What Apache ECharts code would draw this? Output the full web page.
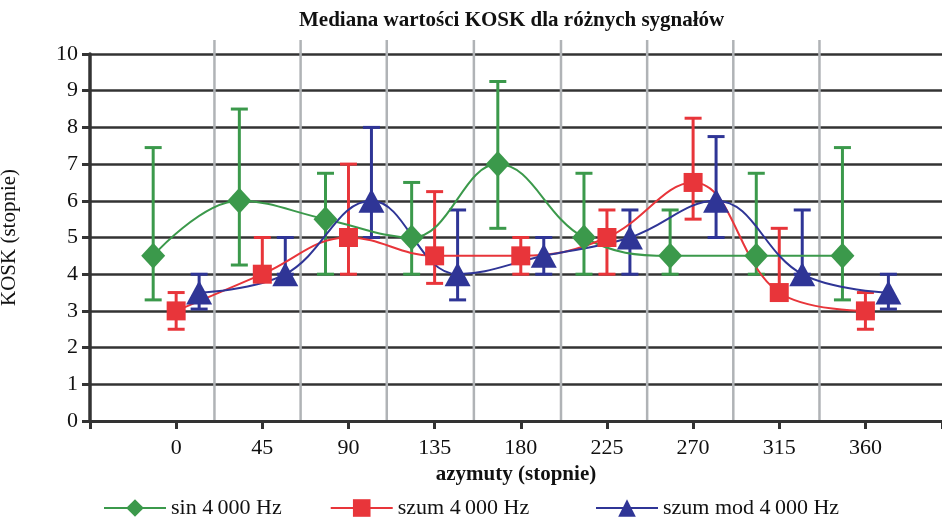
<!DOCTYPE html>
<html>
<head>
<meta charset="utf-8">
<script src="https://cdn.jsdelivr.net/npm/echarts@6/dist/echarts.min.js"></script>
<style>
  html, body { margin: 0; padding: 0; background: #fff; }
  #chart { width: 942px; height: 518px; }
</style>
</head>
<body>
<div id="chart"></div>
<script>
// azymuty (stopnie)
const azimuths = [0, 45, 90, 135, 180, 225, 270, 315, 360]
const seriesOffset = 12 // przesunięcie serii w obrębie grupy

// mediany
const sinMedian = [4.5, 6, 5.5, 5, 7, 5, 4.5, 4.5, 4.5]
const szumMedian = [3, 4, 5, 4.5, 4.5, 5, 6.5, 3.5, 3]
const modMedian = [3.5, 4, 6, 4, 4.5, 5, 6, 4, 3.5]

// zakresy (dół / góra)
const sinLow = [3.3, 4.25, 4, 4, 5.25, 4, 4, 4, 3.3]
const sinHigh = [7.45, 8.5, 6.75, 6.5, 9.25, 6.75, 5.75, 6.75, 7.45]
const szumLow = [2.5, 4, 4, 3.75, 4, 4, 5.5, 3.5, 2.5]
const szumHigh = [3.5, 5, 7, 6.25, 5, 5.75, 8.25, 5.25, 3.5]
const modLow = [3.05, 4, 5, 3.3, 4, 4, 5, 4, 3.05]
const modHigh = [4, 5, 8, 5.75, 5, 5.75, 7.75, 5.75, 4]

// pionowe szare linie
const dividers = [20, 65, 110, 155.5, 201, 246, 291, 336]

const names = ['sin 4\u2009000 Hz', 'szum 4\u2009000 Hz', 'szum mod 4\u2009000 Hz']

const GREEN = '#3b994b'
const RED = '#e8353a'
const BLUE = '#2f3596'
const FONT = 'Liberation Serif'

const pts = (vals, off) => vals.map((v, i) => [azimuths[i] + off, v])
const bars = (lo, hi, off) => lo.map((v, i) => [azimuths[i] + off, v, hi[i]])

function errorBar(color) {
    return function (params, api) {
        const x = api.value(0)
        const lo = api.coord([x, api.value(1)])
        const hi = api.coord([x, api.value(2)])
        const w = 8.5
        const style = { stroke: color, lineWidth: 3 }
        return {
            type: 'group',
            children: [
                { type: 'line', shape: { x1: lo[0], y1: lo[1], x2: hi[0], y2: hi[1] }, style },
                { type: 'line', shape: { x1: lo[0] - w, y1: lo[1], x2: lo[0] + w, y2: lo[1] }, style },
                { type: 'line', shape: { x1: hi[0] - w, y1: hi[1], x2: hi[0] + w, y2: hi[1] }, style },
            ],
        }
    }
}

const legendBase = {
    top: 492,
    itemWidth: 62,
    itemHeight: 22,
    itemGap: 48,
    textStyle: { fontFamily: FONT, fontSize: 22, color: '#111' },
}

const chart = echarts.init(document.getElementById('chart'))

const option = {
    animation: false,
    title: {
        text: 'Mediana wartości KOSK dla różnych sygnałów',
        left: 294,
        top: 5,
        textStyle: { fontFamily: FONT, fontSize: 21, fontWeight: 'bold', color: '#111' },
    },
    legend: [
        { ...legendBase, data: names.slice(0, 2), left: 98 },
        { ...legendBase, data: names.slice(2), left: 590 },
    ],
    grid: [
        { left: 90, right: 0, top: 54, bottom: 97, outerBoundsMode: 'none' },
        { left: 90, right: 0, top: 40, bottom: 97, outerBoundsMode: 'none' },
    ],
    xAxis: [
        {
            type: 'value',
            gridIndex: 0,
            min: -45,
            max: 400,
            interval: 45,
            name: 'azymuty (stopnie)',
            nameLocation: 'middle',
            nameGap: 37,
            nameTextStyle: { fontFamily: FONT, fontSize: 21, fontWeight: 'bold', color: '#111' },
            axisLine: { onZero: false, lineStyle: { color: '#333', width: 3 } },
            axisTick: { length: 8, lineStyle: { color: '#333', width: 3 } },
            axisLabel: {
                fontFamily: FONT,
                fontSize: 22,
                color: '#111',
                margin: 16,
                formatter: (v) => (v < 0 || v > 360 ? '' : v),
            },
            splitLine: { show: false },
        },
        { type: 'value', gridIndex: 1, min: -45, max: 400, show: false },
    ],
    yAxis: [
        {
            type: 'value',
            gridIndex: 0,
            min: 0,
            max: 10,
            interval: 1,
            name: 'KOSK (stopnie)',
            nameLocation: 'middle',
            nameGap: 70,
            nameTextStyle: { fontFamily: FONT, fontSize: 21, color: '#111' },
            axisLine: { show: true, onZero: false, lineStyle: { color: '#333', width: 3.5 } },
            axisTick: { show: true, length: 8, lineStyle: { color: '#333', width: 3 } },
            axisLabel: { fontFamily: FONT, fontSize: 22, color: '#111', margin: 12 },
            splitLine: { lineStyle: { color: '#333', width: 2.5 } },
        },
        { type: 'value', gridIndex: 1, min: 0, max: 1, show: false },
    ],
    series: [
        {
            name: 'dividers',
            type: 'custom',
            xAxisIndex: 1,
            yAxisIndex: 1,
            z: 0,
            silent: true,
            data: dividers.map((d) => [d]),
            renderItem: (params, api) => {
                const a = api.coord([api.value(0), 0])
                const b = api.coord([api.value(0), 1])
                return {
                    type: 'line',
                    shape: { x1: a[0], y1: a[1], x2: b[0], y2: b[1] },
                    style: { stroke: '#b0b3b6', lineWidth: 2.5 },
                }
            },
        },
        {
            name: 'sin err',
            type: 'custom',
            z: 2,
            data: bars(sinLow, sinHigh, -seriesOffset),
            renderItem: errorBar(GREEN),
        },
        {
            name: 'szum err',
            type: 'custom',
            z: 2,
            data: bars(szumLow, szumHigh, 0),
            renderItem: errorBar(RED),
        },
        {
            name: 'mod err',
            type: 'custom',
            z: 2,
            data: bars(modLow, modHigh, seriesOffset),
            renderItem: errorBar(BLUE),
        },
        {
            name: names[0],
            type: 'line',
            z: 3,
            smooth: 0.4,
            data: pts(sinMedian, -seriesOffset),
            symbol: 'diamond',
            symbolSize: [24, 26],
            lineStyle: { color: GREEN, width: 2 },
            itemStyle: { color: GREEN },
        },
        {
            name: names[1],
            type: 'line',
            z: 3,
            smooth: 0.4,
            data: pts(szumMedian, 0),
            symbol: 'rect',
            symbolSize: 19,
            lineStyle: { color: RED, width: 2 },
            itemStyle: { color: RED },
        },
        {
            name: names[2],
            type: 'line',
            z: 3,
            smooth: 0.4,
            data: pts(modMedian, seriesOffset),
            symbol: 'triangle',
            symbolSize: [26, 24],
            lineStyle: { color: BLUE, width: 2 },
            itemStyle: { color: BLUE },
        },
    ],
}

chart.setOption(option)
</script>
</body>
</html>
